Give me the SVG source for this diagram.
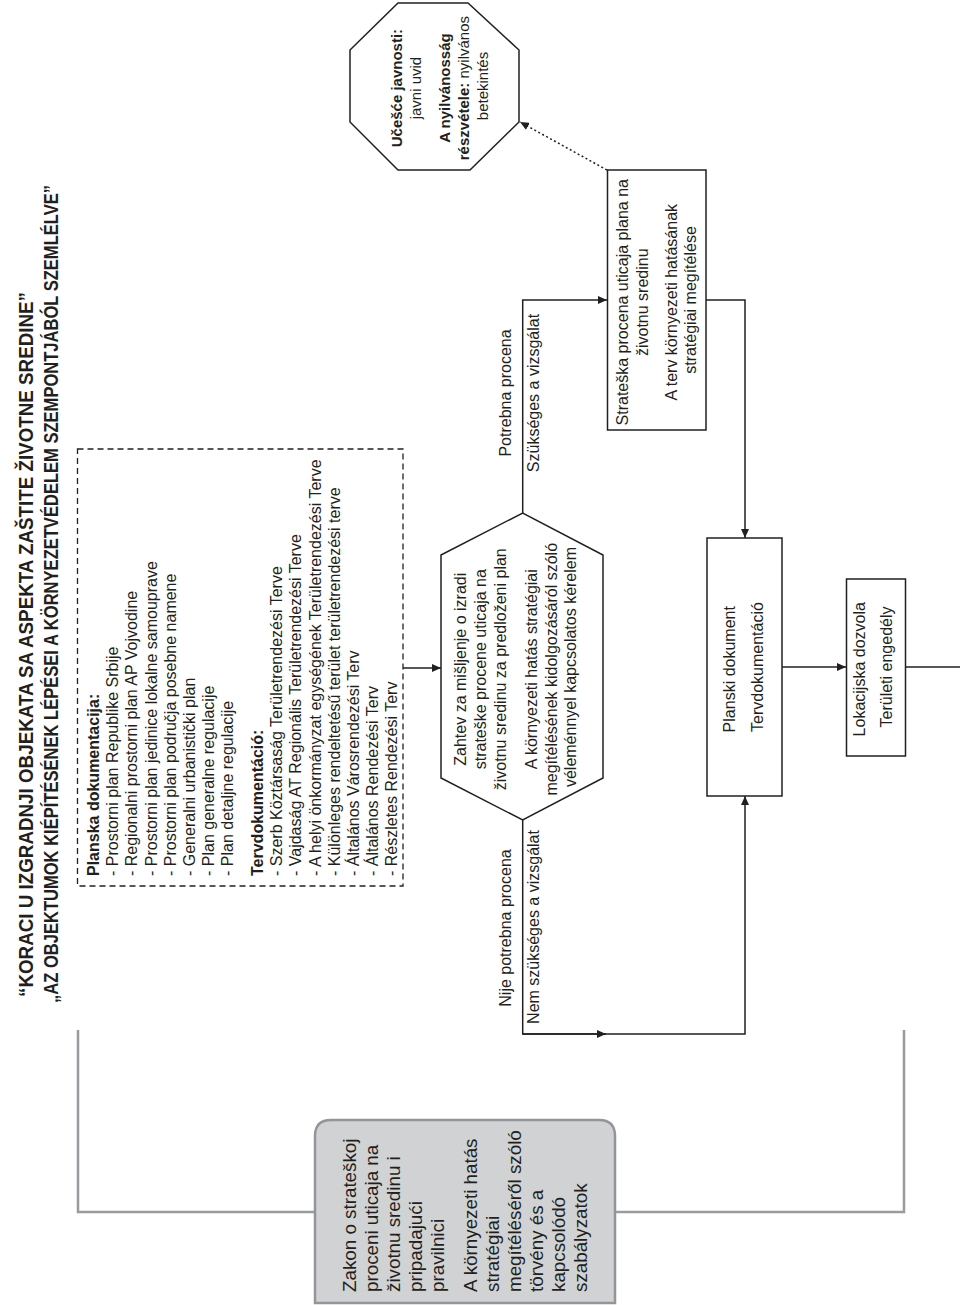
<svg xmlns="http://www.w3.org/2000/svg" width="960" height="1305" viewBox="0 0 960 1305">
<style>
text{font-family:"Liberation Sans",Arial,sans-serif;fill:#231f20;}
.t{font-size:16px;}
.b{font-weight:bold;}
.title{font-size:20px;font-weight:bold;}
.oc{font-size:15px;}
.gt{font-size:18.8px;}
.box{fill:#fff;stroke:#231f20;stroke-width:1.5;}
.ln{fill:none;stroke:#231f20;stroke-width:1.5;}
.gl{fill:none;stroke:#999b9e;stroke-width:2.5;}
</style>
<defs>
<marker id="ah" markerUnits="userSpaceOnUse" markerWidth="10" markerHeight="8" refX="9" refY="4" orient="auto">
<path d="M0,0 L9,4 L0,8 Z" fill="#231f20"/>
</marker>
</defs>
<rect x="0" y="0" width="960" height="1305" fill="#fff"/>

<g id="title">
<text class="title" transform="translate(33,997) rotate(-90)" textLength="705" lengthAdjust="spacingAndGlyphs">“KORACI U IZGRADNJI OBJEKATA SA ASPEKTA ZAŠTITE ŽIVOTNE SREDINE”</text>
<text class="title" transform="translate(58,1003) rotate(-90)" textLength="818" lengthAdjust="spacingAndGlyphs">„AZ OBJEKTUMOK KIÉPÍTÉSÉNEK LÉPÉSEI A KÖRNYEZETVÉDELEM SZEMPONTJÁBÓL SZEMLÉLVE”</text>
</g>

<g id="connectors">
<line class="ln" x1="403" y1="668" x2="441" y2="668" marker-end="url(#ah)"/>
<polyline class="ln" points="522.7,513 522.7,300 607,300" marker-end="url(#ah)"/>
<polyline class="ln" points="706,300 745,300 745,538" marker-end="url(#ah)"/>
<line class="ln" x1="522.7" y1="1034" x2="606" y2="1034" marker-end="url(#ah)"/>
<polyline class="ln" points="522.7,820 522.7,1034 745,1034 745,796" marker-end="url(#ah)"/>
<line class="ln" x1="782" y1="667" x2="846" y2="667" marker-end="url(#ah)"/>
<line class="ln" x1="906" y1="667" x2="960" y2="667"/>
<line class="ln" x1="607" y1="170" x2="520" y2="122" stroke-dasharray="2,2.5" stroke-width="1.3" marker-end="url(#ah)"/>
<polyline class="gl" points="78,1030 78,1212 315,1212"/>
<polyline class="gl" points="615,1212 904,1212 904,1030"/>
<text class="t" transform="rotate(-90)" text-anchor="middle"><tspan x="-393" y="511">Potrebna procena</tspan><tspan x="-393" y="539">Szükséges a vizsgálat</tspan></text>
<text class="t" transform="rotate(-90)" text-anchor="middle"><tspan x="-928" y="511">Nije potrebna procena</tspan><tspan x="-927" y="539">Nem szükséges a vizsgálat</tspan></text>
</g>

<g id="planska-box">
<rect x="77.5" y="449" width="325.5" height="437" fill="none" stroke="#231f20" stroke-width="1.3" stroke-dasharray="6,4"/>
<text class="t" transform="rotate(-90)">
<tspan class="b" x="-876" y="99">Planska dokumentacija:</tspan>
<tspan x="-876" y="118.2">- Prostorni plan Republike Srbije</tspan>
<tspan x="-876" y="137.4">- Regionalni prostorni plan AP Vojvodine</tspan>
<tspan x="-876" y="156.6">- Prostorni plan jedinice lokalne samouprave</tspan>
<tspan x="-876" y="175.8">- Prostorni plan područja posebne namene</tspan>
<tspan x="-876" y="195">- Generalni urbanistički plan</tspan>
<tspan x="-876" y="214.2">- Plan generalne regulacije</tspan>
<tspan x="-876" y="233.4">- Plan detaljne regulacije</tspan>
<tspan class="b" x="-876" y="263">Tervdokumentáció:</tspan>
<tspan x="-876" y="282.2">- Szerb Köztársaság Területrendezési Terve</tspan>
<tspan x="-876" y="301.4">- Vajdaság AT Regionális Területrendezési Terve</tspan>
<tspan x="-876" y="320.6">- A helyi önkormányzat egységének Területrendezési Terve</tspan>
<tspan x="-876" y="339.8">- Különleges rendeltetésű terület területrendezési terve</tspan>
<tspan x="-876" y="359">- Általános Városrendezési Terv</tspan>
<tspan x="-876" y="378.2">- Általános Rendezési Terv</tspan>
<tspan x="-876" y="397.4">- Részletes Rendezési Terv</tspan>
</text>
</g>

<g id="zahtev-hexagon">
<polygon class="box" points="441,555 522.7,513 603,555 603,778 522.7,820 441,778"/>
<text class="t" transform="rotate(-90)" text-anchor="middle">
<tspan x="-667" y="466">Zahtev za mišljenje o izradi</tspan>
<tspan x="-667" y="486">strateške procene uticaja na</tspan>
<tspan x="-667" y="506">životnu sredinu za predloženi plan</tspan>
<tspan x="-667" y="537">A környezeti hatás stratégiai</tspan>
<tspan x="-667" y="556.5">megítélésének kidolgozásáról szóló</tspan>
<tspan x="-667" y="576">véleménnyel kapcsolatos kérelem</tspan>
</text>
</g>

<g id="strateska-box">
<rect class="box" x="607.5" y="170" width="98.5" height="260"/>
<text class="t" transform="rotate(-90)" text-anchor="middle">
<tspan x="-300" y="628">Strateška procena uticaja plana na</tspan>
<tspan x="-300" y="648">životnu sredinu</tspan>
<tspan x="-300" y="677">A terv környezeti hatásának</tspan>
<tspan x="-300" y="696">stratégiai megítélése</tspan>
</text>
</g>

<g id="ucesce-octagon">
<polygon class="box" points="350,50 398,3 468,3 519,50 519,122 470,170 398,170 350,122"/>
<text class="oc" transform="rotate(-90)" text-anchor="middle">
<tspan class="b" x="-86" y="402">Učešće javnosti:</tspan>
<tspan x="-86" y="421">javni uvid</tspan>
<tspan class="b" x="-86" y="450">A nyilvánosság</tspan>
<tspan x="-86" y="469"><tspan class="b">részvétele:</tspan> nyilvános</tspan>
<tspan x="-86" y="488">betekintés</tspan>
</text>
</g>

<g id="planski-box">
<rect class="box" x="707" y="538" width="75" height="258"/>
<text class="t" transform="rotate(-90)" text-anchor="middle">
<tspan x="-667" y="735">Planski dokument</tspan>
<tspan x="-667" y="763">Tervdokumentáció</tspan>
</text>
</g>

<g id="lokacijska-box">
<rect class="box" x="846.5" y="579" width="59" height="177"/>
<text class="t" transform="rotate(-90)" text-anchor="middle">
<tspan x="-667" y="865">Lokacijska dozvola</tspan>
<tspan x="-667" y="892">Területi engedély</tspan>
</text>
</g>

<g id="zakon-box">
<path d="M315,1303 L315,1136 Q315,1120 331,1120 L599,1120 Q615,1120 615,1136 L615,1303 Z" fill="#d1d2d4" stroke="#939598" stroke-width="2.5"/>
<text class="gt" transform="rotate(-90)">
<tspan x="-1292" y="356">Zakon o strateškoj</tspan>
<tspan x="-1292" y="378">proceni uticaja na</tspan>
<tspan x="-1292" y="400">životnu sredinu i</tspan>
<tspan x="-1292" y="422">pripadajući</tspan>
<tspan x="-1292" y="444">pravilnici</tspan>
<tspan x="-1292" y="477">A környezeti hatás</tspan>
<tspan x="-1292" y="499">stratégiai</tspan>
<tspan x="-1292" y="521">megítéléséről szóló</tspan>
<tspan x="-1292" y="543">törvény és a</tspan>
<tspan x="-1292" y="565">kapcsolódó</tspan>
<tspan x="-1292" y="587">szabályzatok</tspan>
</text>
</g>
</svg>
